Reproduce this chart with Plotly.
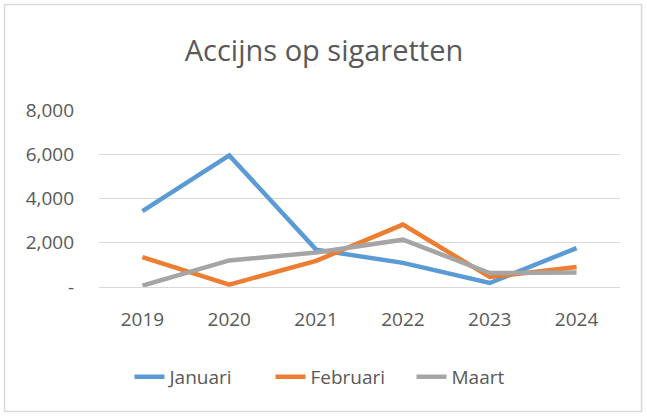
import plotly.graph_objects as go

years = ["2019", "2020", "2021", "2022", "2023", "2024"]
januari = [3430, 5950, 1690, 1090, 180, 1760]
februari = [1350, 110, 1180, 2820, 450, 900]
maart = [60, 1200, 1560, 2140, 630, 650]

y_tickvals = [0, 2000, 4000, 6000, 8000]
y_ticktext = ["-", "2,000", "4,000", "6,000", "8,000"]

series = [("Januari", januari, "#5B9BD5"),
          ("Februari", februari, "#ED7D31"),
          ("Maart", maart, "#A5A5A5")]

FONT = "Open Sans"
TXT = "#595959"

fig = go.Figure()
for name, vals, col in series:
    fig.add_trace(go.Scatter(x=years, y=vals, name=name, mode="lines",
                             line=dict(color=col, width=4.5)))

W, H = 647, 416
L, R, T, B = 99, 27, 110, 129
pw, ph = W - L - R, H - T - B

def px(x):
    return (x - L) / pw

def py(y):
    return (H - B - y) / ph

fig.add_shape(type="rect", xref="paper", yref="paper",
              x0=px(4.5), x1=px(641.5), y0=py(411.5), y1=py(4.5),
              line=dict(color="#D9D9D9", width=1.5), fillcolor="white",
              layer="below")

fig.update_layout(
    width=W, height=H,
    margin=dict(l=L, r=R, t=T, b=B),
    paper_bgcolor="white", plot_bgcolor="white",
    font=dict(family=FONT, color=TXT),
    title=dict(text="Accijns op sigaretten", x=px(324), xref="paper",
               xanchor="center", y=1 - 51 / H, yanchor="middle",
               font=dict(size=29, color=TXT, family=FONT)),
    xaxis=dict(type="category", range=[-0.5, 5.5], showgrid=False,
               showline=True, linecolor="#D9D9D9", linewidth=1,
               ticks="", tickfont=dict(size=19, color=TXT),
               ticklabelstandoff=15, fixedrange=True),
    yaxis=dict(range=[0, 8000], tickvals=y_tickvals, ticktext=y_ticktext,
               showgrid=True, gridcolor="#D9D9D9", gridwidth=1, zeroline=False,
               showline=False, ticks="", tickfont=dict(size=19, color=TXT),
               ticklabelstandoff=24, fixedrange=True),
    legend=dict(orientation="h", x=px(341), xanchor="center",
                y=py(377), yanchor="middle",
                font=dict(size=19, color=TXT), entrywidth=96,
                bgcolor="rgba(0,0,0,0)"),
    showlegend=True,
)

fig.write_html("out.html", config={"displayModeBar": False},
               post_script="document.body.style.margin='0';document.body.style.padding='0';")
